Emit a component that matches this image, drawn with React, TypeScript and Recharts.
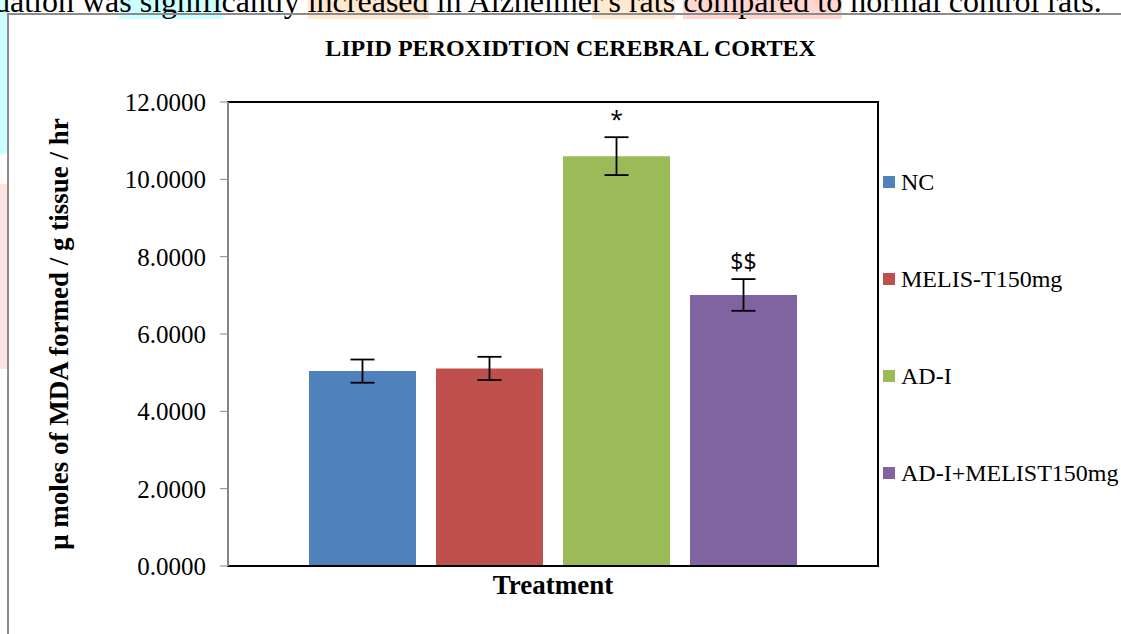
import { BarChart, Bar, XAxis, YAxis, ErrorBar, ReferenceArea } from 'recharts';

const groups = ['NC', 'MELIS-T150mg', 'AD-I', 'AD-I+MELIST150mg'];
const means = [5.04, 5.11, 10.6, 7.01];
const errors = [0.3, 0.3, 0.49, 0.41];
const marks = ['', '', '*', '$$'];
const colors = ['#4F81BD', '#C0504D', '#9BBB59', '#8064A2'];
const yTicks = [0, 2, 4, 6, 8, 10, 12];

const row: any = { name: 'Treatment' };
groups.forEach((g, i) => {
  row[`s${i}`] = means[i];
  row[`e${i}`] = errors[i];
});
const data = [row];

const serif = '"Liberation Serif", "Times New Roman", serif';

const makeMark = (i: number) => (props: any) => {
  const { x, y, width, height } = props;
  if (!marks[i]) return null;
  const errPx = (errors[i] / means[i]) * height;
  return (
    <text
      x={x + width / 2}
      y={y - errPx - 18}
      textAnchor="middle"
      dominantBaseline="central"
      fontFamily='"Open Sans", "DejaVu Sans", sans-serif'
      fontSize={23}
      fill="#000"
    >
      {marks[i]}
    </text>
  );
};

export default function App() {
  return (
    <div style={{ position: 'fixed', left: 0, top: 0, width: 1121, height: 634, background: '#fff', overflow: 'hidden' }}>
      {/* bits of the page around the figure */}
      <div style={{ position: 'absolute', left: 0, top: 0, width: 8, height: 154, background: '#ccffff' }} />
      <div style={{ position: 'absolute', left: 0, top: 184, width: 8, height: 185, background: '#ffe2e2' }} />
      <div
        style={{
          position: 'absolute', left: -6, top: -15, whiteSpace: 'nowrap',
          fontFamily: serif, fontSize: 32, lineHeight: '32px', color: '#000',
        }}
      >
        dation wa<span style={{ background: '#ccffff' }}>s signifi</span>cantly{' '}
        <span style={{ background: '#ffe8d0' }}>increased</span> in Alzheime
        <span style={{ background: '#ffe8d0' }}>r's rats</span>{' '}
        <span style={{ background: '#ffd6d0' }}>compared to</span> normal control rats.
      </div>
      <div style={{ position: 'absolute', left: 7, top: 13, right: 0, bottom: 0, borderLeft: '2px solid #8c8c8c', borderTop: '2px solid #8c8c8c', background: 'transparent' }} />

      <div
        style={{
          position: 'absolute', left: 0, top: 35, width: 1121, textAlign: 'center',
          fontFamily: serif, fontWeight: 'bold', fontSize: 24, paddingLeft: 10,
        }}
      >
        LIPID PEROXIDTION CEREBRAL CORTEX
      </div>

      <div style={{ position: 'absolute', left: 0, top: 0 }}>
        <BarChart
          width={1121}
          height={634}
          data={data}
          margin={{ top: 102, right: 243, bottom: 28, left: 0 }}
          barSize={107}
          barGap={20}
        >
          <ReferenceArea y1={0} y2={12} fill="none" stroke="#000" strokeWidth={2} ifOverflow="visible" />
          <XAxis
            dataKey="name"
            tick={false}
            tickLine={false}
            height={40}
            axisLine={{ stroke: '#000', strokeWidth: 2 }}
            label={{ value: 'Treatment', position: 'insideBottom', offset: 12, fontFamily: serif, fontWeight: 'bold', fontSize: 27, fill: '#000' }}
          />
          <YAxis
            width={228}
            domain={[0, 12]}
            ticks={yTicks}
            tickFormatter={(v: number) => v.toFixed(4)}
            tick={{ fontFamily: serif, fontSize: 25, fill: '#000' }}
            tickLine={{ stroke: '#868686' }}
            tickSize={8}
            tickMargin={14}
            axisLine={{ stroke: '#868686', strokeWidth: 2 }}
            label={{
              value: 'μ moles of MDA formed / g tissue / hr', angle: -90, position: 'insideLeft', offset: 58,
              style: { textAnchor: 'middle', fontFamily: serif, fontWeight: 'bold', fontSize: 27, fill: '#000' },
            }}
          />
          {groups.map((g, i) => (
            <Bar key={g} dataKey={`s${i}`} name={g} fill={colors[i]} isAnimationActive={false} label={makeMark(i)}>
              <ErrorBar dataKey={`e${i}`} width={12} stroke="#000" strokeWidth={1.8} />
            </Bar>
          ))}
        </BarChart>
      </div>

      <div style={{ position: 'absolute', left: 883, top: 168 }}>
        {groups.map((g, i) => (
          <div key={g} style={{ display: 'flex', alignItems: 'center', height: 28, marginBottom: i < groups.length - 1 ? 69 : 0 }}>
            <div style={{ width: 12, height: 12, background: colors[i], marginRight: 6 }} />
            <span style={{ fontFamily: serif, fontSize: 24, color: '#000', whiteSpace: 'nowrap' }}>{g}</span>
          </div>
        ))}
      </div>
    </div>
  );
}
